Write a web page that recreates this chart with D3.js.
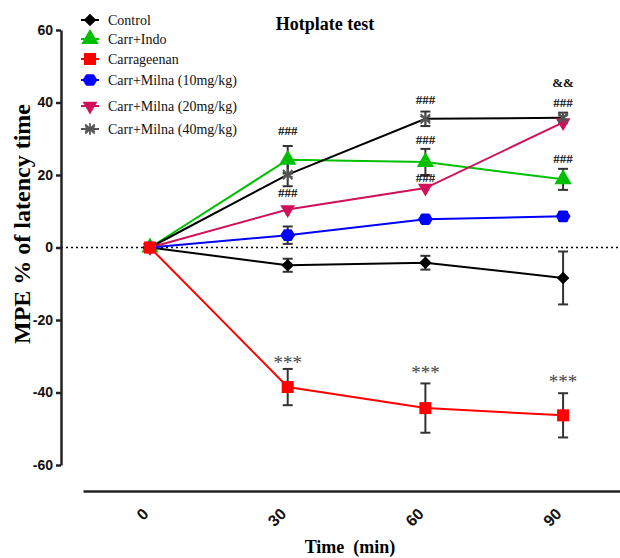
<!DOCTYPE html>
<html>
<head>
<meta charset="utf-8">
<script src="https://cdn.jsdelivr.net/npm/d3@7"></script>
<style>
  body { margin: 0; background: #fff; }
  svg { display: block; }
</style>
</head>
<body>
<svg id="chart" width="620" height="558"></svg>
<script>
// time points (min)
const times = [0, 30, 60, 90]

// group names, as in the legend
const groups = ["Control", "Carr+Indo", "Carrageenan", "Carr+Milna (10mg/kg)", "Carr+Milna (20mg/kg)", "Carr+Milna (40mg/kg)"]

// mean MPE % per time point
const control = [0, -4.9, -4.2, -8.4]
const carrIndo = [0, 24.2, 23.6, 18.8]
const carrageenan = [0, -38.5, -44.3, -46.3]
const milna10 = [0, 3.4, 7.8, 8.6]
const milna20 = [0, 10.5, 16.4, 34.5]
const milna40 = [0, 20.1, 35.5, 35.8]

// SEM per time point
const controlErr = [0, 1.8, 1.9, 7.3]
const carrIndoErr = [0, 3.8, 3.6, 2.9]
const carrageenanErr = [0, 5.0, 6.8, 6.1]
const milna10Err = [0, 2.4, 1.0, 1.2]
const milna20Err = [0, 0, 0, 0]
const milna40Err = [0, 3.2, 2.0, 1.4]

// significance marks: time, value where the mark sits, text
const marks = [
  { t: 30, v: 32.3, text: "###" },
  { t: 30, v: 15.2, text: "###" },
  { t: 60, v: 40.8, text: "###" },
  { t: 60, v: 29.8, text: "###" },
  { t: 60, v: 19.4, text: "###" },
  { t: 90, v: 45.6, text: "&&" },
  { t: 90, v: 40.0, text: "###" },
  { t: 90, v: 24.6, text: "###" },
  { t: 30, v: -30.4, text: "***" },
  { t: 60, v: -33.0, text: "***" },
  { t: 90, v: -35.6, text: "***" }
]

const yTicks = [-60, -40, -20, 0, 20, 40, 60]

const series = [
  { name: groups[0], mean: control, err: controlErr, line: "#000", fill: "#000", shape: "diamond" },
  { name: groups[1], mean: carrIndo, err: carrIndoErr, line: "#00c000", fill: "#00c000", shape: "triUp" },
  { name: groups[3], mean: milna10, err: milna10Err, line: "#0000ff", fill: "#0000ff", shape: "hex" },
  { name: groups[4], mean: milna20, err: milna20Err, line: "#d0105a", fill: "#d0105a", shape: "triDown" },
  { name: groups[5], mean: milna40, err: milna40Err, line: "#000", fill: "#555", shape: "star" },
  { name: groups[2], mean: carrageenan, err: carrageenanErr, line: "#ff0000", fill: "#ff0000", shape: "square" }
]
const legendOrder = [0, 1, 5, 2, 3, 4]
const legendY = [20, 39, 59, 80, 106, 129]

const svg = d3.select("#chart")

const x = d3.scaleLinear().domain([-14.6, 102.4]).range([83, 620])
const y = d3.scaleLinear().domain([-60, 60]).range([465, 30])

const serif = "'Liberation Serif', 'Times New Roman', serif"
const sans = "'Liberation Sans', Arial, sans-serif"

// marker shapes
function marker(sel, shape, fill) {
  if (shape === "diamond") {
    sel.append("path").attr("d", d3.symbol(d3.symbolSquare, 80)()).attr("transform", "rotate(45)").attr("fill", fill)
  } else if (shape === "triUp") {
    sel.append("path").attr("d", d3.symbol(d3.symbolTriangle, 130)()).attr("fill", fill)
  } else if (shape === "triDown") {
    sel.append("path").attr("d", d3.symbol(d3.symbolTriangle, 95)()).attr("transform", "rotate(180)").attr("fill", fill)
  } else if (shape === "square") {
    sel.append("rect").attr("x", -6).attr("y", -6).attr("width", 12).attr("height", 12).attr("fill", fill)
  } else if (shape === "hex") {
    const r = 7.5
    const pts = d3.range(6).map(i => [r * Math.cos(i * Math.PI / 3), r * 0.9 * Math.sin(i * Math.PI / 3)])
    sel.append("path").attr("d", "M" + pts.join("L") + "Z").attr("fill", fill)
  } else if (shape === "star") {
    sel.append("path").attr("d", d3.symbol(d3.symbolAsterisk, 90)()).attr("fill", "none").attr("stroke", fill).attr("stroke-width", 1.8)
    sel.append("path").attr("d", d3.symbol(d3.symbolTimes, 60)()).attr("fill", "none").attr("stroke", fill).attr("stroke-width", 1.8)
  }
}

// zero reference line
svg.append("line")
  .attr("x1", x.range()[0] - 22).attr("x2", 620)
  .attr("y1", y(0)).attr("y2", y(0))
  .attr("stroke", "#000").attr("stroke-width", 1.3).attr("stroke-dasharray", "2,3")

// y axis
const yAxis = svg.append("g")
  .attr("transform", "translate(61,0)")
  .call(d3.axisLeft(y).tickValues(yTicks).tickFormat(d => String(d)).tickSize(5).tickSizeOuter(0).tickPadding(3))
yAxis.select(".domain").attr("stroke", "#222").attr("stroke-width", 2.5)
yAxis.selectAll(".tick line").attr("stroke", "#222").attr("stroke-width", 2.5)
yAxis.selectAll(".tick text")
  .attr("font-family", sans).attr("font-weight", "bold").attr("font-size", 14).attr("fill", "#111")

// x axis
const xAxis = svg.append("g")
  .attr("transform", "translate(0,491)")
  .call(d3.axisBottom(x).tickValues(times).tickSize(0).tickSizeOuter(0).tickPadding(0))
xAxis.select(".domain").attr("stroke", "#222").attr("stroke-width", 2.5)
xAxis.selectAll(".tick text")
  .attr("font-family", sans).attr("font-weight", "bold").attr("font-size", 16).attr("fill", "#111")
  .attr("text-anchor", "end")
  .attr("y", 0).attr("dy", 0)
  .attr("transform", "translate(-1,24) rotate(-45)")

// lines
const lineGen = d3.line().x((d, i) => x(times[i])).y(d => y(d))
svg.append("g").selectAll("path")
  .data(series)
  .join("path")
  .attr("d", d => lineGen(d.mean))
  .attr("fill", "none")
  .attr("stroke", d => d.line)
  .attr("stroke-width", 2)

// error bars
const errG = svg.append("g").attr("stroke", "#333").attr("stroke-width", 2)
series.forEach(s => {
  s.mean.forEach((m, i) => {
    const e = s.err[i]
    if (!e) return
    const cx = x(times[i])
    errG.append("line").attr("x1", cx).attr("x2", cx).attr("y1", y(m + e)).attr("y2", y(m - e))
    errG.append("line").attr("x1", cx - 5).attr("x2", cx + 5).attr("y1", y(m + e)).attr("y2", y(m + e))
    errG.append("line").attr("x1", cx - 5).attr("x2", cx + 5).attr("y1", y(m - e)).attr("y2", y(m - e))
  })
})

// markers
series.forEach(s => {
  s.mean.forEach((m, i) => {
    const g = svg.append("g").attr("transform", `translate(${x(times[i])},${y(m)})`)
    marker(g, s.shape, s.fill)
  })
})

// significance marks
svg.append("g").selectAll("text")
  .data(marks)
  .join("text")
  .attr("x", d => x(d.t))
  .attr("y", d => y(d.v))
  .attr("dy", d => d.text === "***" ? "0.62em" : "0.35em")
  .attr("text-anchor", "middle")
  .attr("font-family", serif)
  .attr("font-weight", d => d.text === "***" ? "normal" : "bold")
  .attr("font-size", d => d.text === "***" ? 19 : 13)
  .attr("fill", d => d.text === "***" ? "#444" : "#111")
  .text(d => d.text)

// legend
const legend = svg.append("g")
legendOrder.forEach((si, k) => {
  const s = series[si]
  const g = legend.append("g").attr("transform", `translate(90,${legendY[k]})`)
  g.append("line").attr("x1", -9).attr("x2", 9).attr("stroke", s.line === "#000" && s.shape === "star" ? "#555" : s.line).attr("stroke-width", 2)
  marker(g, s.shape, s.fill)
  g.append("text")
    .attr("x", 18).attr("dy", "0.35em")
    .attr("font-family", serif).attr("font-size", 14).attr("fill", "#111")
    .text(s.name)
})

// title
svg.append("text")
  .attr("x", 325).attr("y", 30)
  .attr("text-anchor", "middle")
  .attr("font-family", serif).attr("font-weight", "bold").attr("font-size", 18)
  .text("Hotplate test")

// axis titles
svg.append("text")
  .attr("transform", "translate(30,224) rotate(-90)")
  .attr("text-anchor", "middle")
  .attr("font-family", serif).attr("font-weight", "bold").attr("font-size", 24)
  .text("MPE % of latency time")

svg.append("text")
  .attr("x", 350).attr("y", 553)
  .attr("text-anchor", "middle")
  .attr("font-family", serif).attr("font-weight", "bold").attr("font-size", 18)
  .text("Time  (min)")
  .style("white-space", "pre")
</script>
</body>
</html>
